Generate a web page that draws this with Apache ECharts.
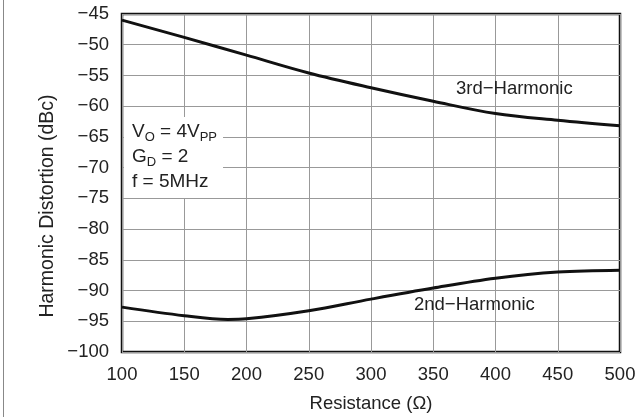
<!DOCTYPE html>
<html>
<head>
<meta charset="utf-8">
<script src="https://cdn.jsdelivr.net/npm/echarts@6/dist/echarts.min.js"></script>
<style>
  html, body { margin: 0; padding: 0; background: #fff; }
  #chart { width: 636px; height: 417px; }
</style>
</head>
<body>
<div id="chart"></div>
<script>
// resistance (ohm) and harmonic distortion (dBc)
const r3rd = [100, 150, 200, 250, 300, 350, 400, 450, 500];
const hd3rd = [-46.0, -48.8, -51.7, -54.6, -57.0, -59.2, -61.2, -62.3, -63.2];
const r2nd = [100, 150, 185, 200, 250, 300, 350, 400, 450, 500];
const hd2nd = [-92.7, -94.1, -94.7, -94.6, -93.3, -91.4, -89.6, -88.0, -87.0, -86.7];

const FONT = 'Liberation Sans, Arial, sans-serif';
const minus = v => String(v).replace('-', '\u2212');

const chart = echarts.init(document.getElementById('chart'));

const option = {
  backgroundColor: '#fff',
  animation: false,
  textStyle: { fontFamily: FONT },
  grid: {
    left: 122, right: 16, top: 14, bottom: 65,
    outerBoundsMode: 'none', containLabel: false,
    show: true, borderColor: '#111', borderWidth: 2.5
  },
  xAxis: {
    type: 'value', min: 100, max: 500, interval: 50,
    name: 'Resistance (\u03A9)', nameLocation: 'middle', nameGap: 42,
    nameTextStyle: { fontSize: 18.5, color: '#222', fontFamily: FONT },
    axisLine: { show: false },
    axisTick: { show: false },
    axisLabel: { fontSize: 18.5, color: '#222', margin: 13, fontFamily: FONT },
    splitLine: { lineStyle: { color: '#999', width: 1 } }
  },
  yAxis: {
    type: 'value', min: -100, max: -45, interval: 5,
    axisLine: { show: false },
    axisTick: { show: false },
    axisLabel: { fontSize: 18.5, color: '#222', margin: 13, fontFamily: FONT, formatter: minus },
    splitLine: { lineStyle: { color: '#999', width: 1 } }
  },
  series: [
    {
      name: '3rd-Harmonic', type: 'line', smooth: 0.35, showSymbol: false,
      lineStyle: { color: '#111', width: 3 },
      data: r3rd.map((r, i) => [r, hd3rd[i]])
    },
    {
      name: '2nd-Harmonic', type: 'line', smooth: 0.35, showSymbol: false,
      lineStyle: { color: '#111', width: 3 },
      data: r2nd.map((r, i) => [r, hd2nd[i]])
    }
  ],
  graphic: [
    {
      type: 'line', shape: { x1: 3.5, y1: 0, x2: 3.5, y2: 417 },
      style: { stroke: '#888', lineWidth: 1 }
    },
    {
      type: 'text', x: 48, y: 206, rotation: Math.PI / 2,
      style: {
        text: 'Harmonic Distortion (dBc)', fontSize: 19.5, fill: '#222', fontFamily: FONT,
        align: 'center', verticalAlign: 'middle'
      }
    },
    {
      type: 'text', x: 456, y: 89, z: 10,
      style: {
        text: '3rd\u2212Harmonic', fontSize: 18.5, fill: '#222', fontFamily: FONT,
        align: 'left', verticalAlign: 'middle'
      }
    },
    {
      type: 'text', x: 414, y: 305, z: 10,
      style: {
        text: '2nd\u2212Harmonic', fontSize: 18.5, fill: '#222', fontFamily: FONT,
        align: 'left', verticalAlign: 'middle'
      }
    },
    {
      type: 'text', x: 124, y: 117, z: 10,
      style: {
        text: '{a|V}{s|O}{a| = 4V}{s|PP}\n{a|G}{s|D}{a| = 2}\n{a|f = 5MHz}',
        backgroundColor: '#fff',
        padding: [2, 6, 4, 8],
        fill: '#222',
        fontFamily: FONT,
        rich: {
          a: { fontSize: 19, lineHeight: 25, fill: '#222', fontFamily: FONT, verticalAlign: 'middle' },
          s: { fontSize: 13, lineHeight: 15, fill: '#222', fontFamily: FONT, verticalAlign: 'bottom' }
        }
      }
    }
  ]
};

chart.setOption(option);
</script>
</body>
</html>
